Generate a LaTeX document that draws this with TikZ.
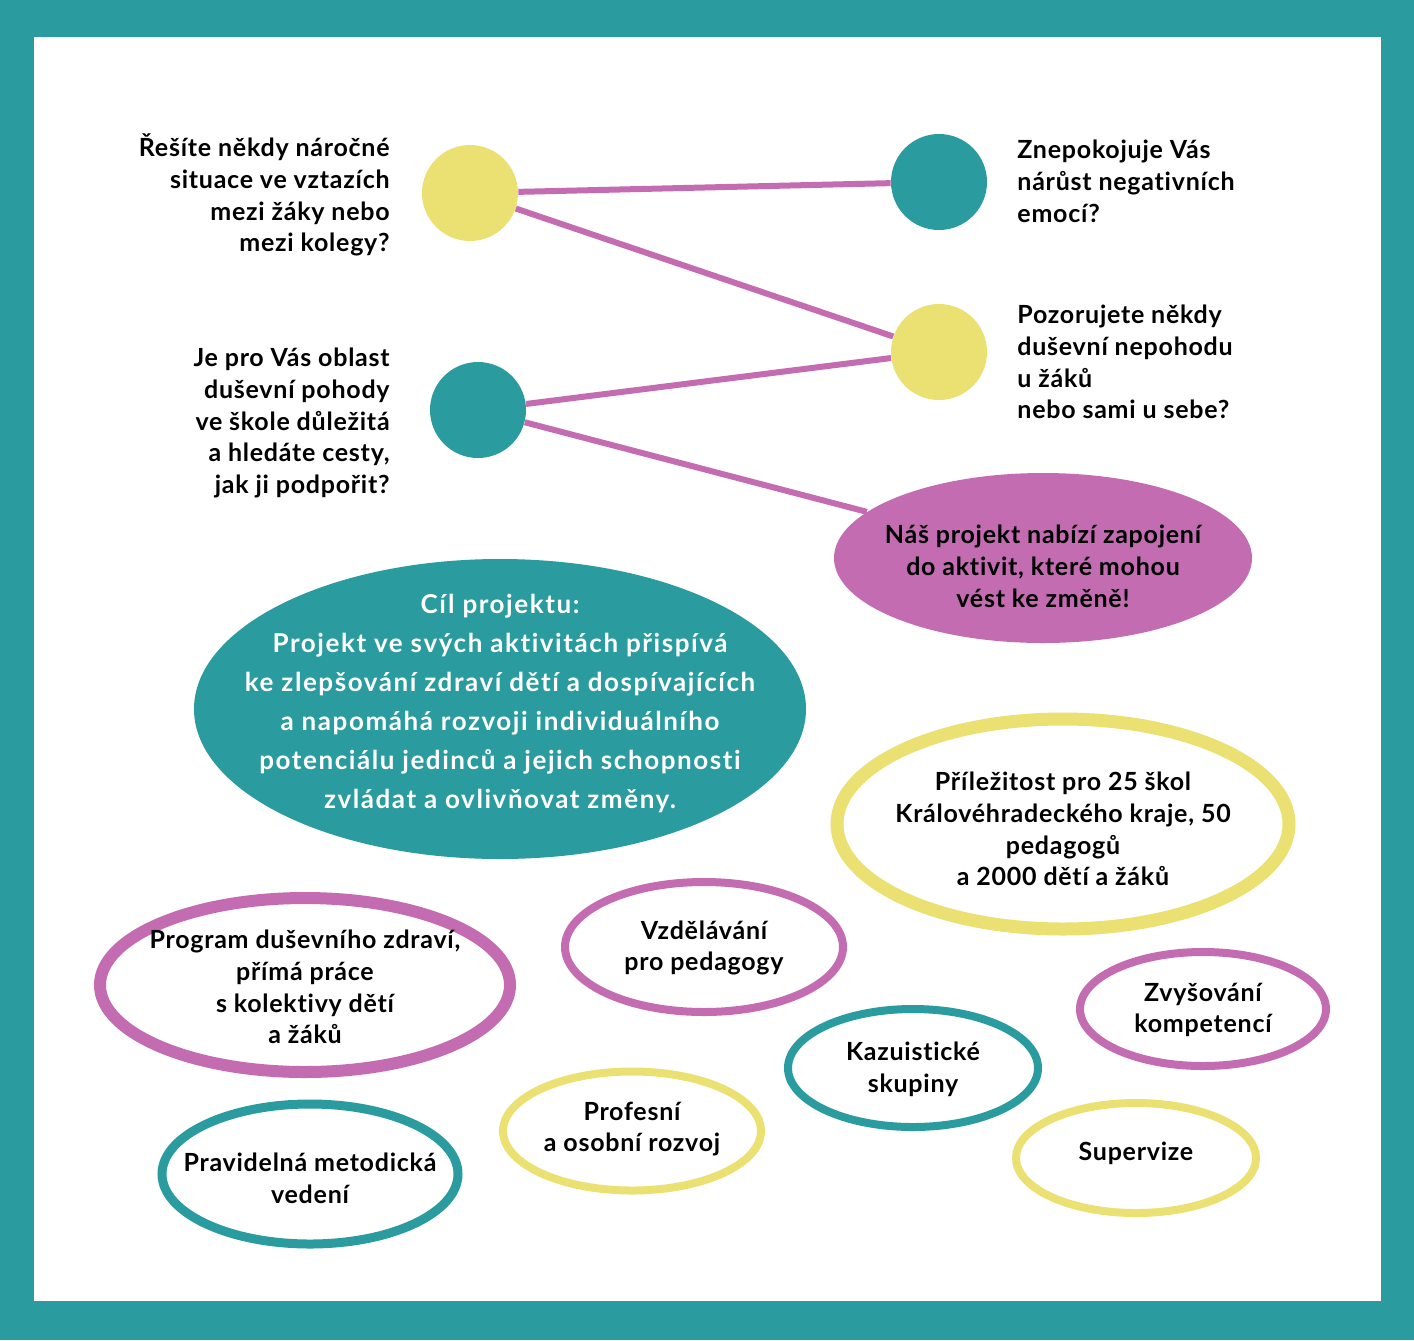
\documentclass[tikz,border=0pt]{standalone}
\usepackage{fontspec}
\setmainfont{Lato}[LetterSpace=3,Ligatures=NoCommon]
\newfontfamily\goalfont{Lato}[LetterSpace=6,Ligatures=NoCommon]
\usetikzlibrary{shapes.geometric}
\definecolor{tealc}{HTML}{2A9B9E}
\definecolor{pinkc}{HTML}{C46CB1}
\definecolor{yelc}{HTML}{EBE173}
\begin{document}
\begin{tikzpicture}[x=0.5pt,y=-0.5pt,
    dot/.style={circle,inner sep=0pt,minimum size=48pt},
    oval/.style={ellipse,inner sep=0pt},
    txt/.style={font=\bfseries\fontsize{12.5}{15.9}\selectfont,align=center,inner sep=0pt},
    link/.style={pinkc,line width=3pt}]
  \fill[tealc] (0,0) rectangle (1414,1340);
  \fill[white] (34,37) rectangle (1381,1301);
  % questions
  \node[dot,fill=yelc] (q1) at (470,193) {};
  \node[dot,fill=tealc] (q2) at (939,182) {};
  \node[dot,fill=yelc] (q3) at (939,352) {};
  \node[dot,fill=tealc] (q4) at (478,410) {};
  \node[txt,align=right,anchor=east] (t1) at (390,195) {Řešíte někdy náročné\\situace ve vztazích\\mezi žáky nebo\\mezi kolegy?};
  \node[txt,align=left,anchor=west] (t2) at (1017,181) {Znepokojuje Vás\\nárůst negativních\\emocí?};
  \node[txt,align=left,anchor=west] (t3) at (1017,362) {Pozorujete někdy\\duševní nepohodu\\u žáků\\nebo sami u sebe?};
  \node[txt,align=right,anchor=east] (t4) at (390,423) {Je pro Vás oblast\\duševní pohody\\ve škole důležitá\\a hledáte cesty,\\jak ji podpořit?};
  % offer
  \node[oval,fill=pinkc,minimum width=209pt,minimum height=85pt] (offer) at (1043,558) {};
  \node[txt] at (1043,566) {Náš projekt nabízí zapojení\\do aktivit, které mohou\\vést ke změně!};
  \draw[link] (q1) -- (q2);
  \draw[link] (q1) -- (q3);
  \draw[link] (q4) -- (q3);
  \draw[link] (q4) -- (offer);
  % goal
  \node[oval,fill=tealc,minimum width=306pt,minimum height=150pt] (goal) at (500,709) {};
  \node[txt,text=white,font=\goalfont\bfseries\fontsize{13}{19.5}\selectfont] at (500,704) {Cíl projektu:\\Projekt ve svých aktivitách přispívá\\ke zlepšování zdraví dětí a dospívajících\\a napomáhá rozvoji individuálního\\potenciálu jedinců a jejich schopnosti\\zvládat a ovlivňovat změny.};
  % activities
  \node[oval,draw=yelc,line width=6.5pt,minimum width=226pt,minimum height=105pt] (reach) at (1063,824) {};
  \node[txt] at (1063,829) {Příležitost pro 25 škol\\Královéhradeckého kraje, 50\\pedagogů\\a 2000 dětí a žáků};
  \node[oval,draw=pinkc,line width=6pt,minimum width=205pt,minimum height=87pt] (prog) at (305,985) {};
  \node[txt] at (305,987) {Program duševního zdraví,\\přímá práce\\s kolektivy dětí\\a žáků};
  \node[oval,draw=pinkc,line width=4pt,minimum width=139pt,minimum height=65pt] (edu) at (704,947) {};
  \node[txt] at (704,948) {Vzdělávání\\pro pedagogy};
  \node[oval,draw=pinkc,line width=4pt,minimum width=123pt,minimum height=57pt] (comp) at (1203,1009) {};
  \node[txt] at (1203,1010) {Zvyšování\\kompetencí};
  \node[oval,draw=tealc,line width=4pt,minimum width=125pt,minimum height=59pt] (case) at (913,1068) {};
  \node[txt] at (913,1069) {Kazuistické\\skupiny};
  \node[oval,draw=yelc,line width=4pt,minimum width=129pt,minimum height=59.5pt] (grow) at (632,1131) {};
  \node[txt] at (632,1129) {Profesní\\a osobní rozvoj};
  \node[oval,draw=tealc,line width=4.5pt,minimum width=148pt,minimum height=70pt] (lead) at (310,1174) {};
  \node[txt] at (310,1178) {Pravidelná metodická\\vedení};
  \node[oval,draw=yelc,line width=4pt,minimum width=120pt,minimum height=55pt] (superv) at (1136,1158) {};
  \node[txt] at (1136,1153) {Supervize};
\end{tikzpicture}
\end{document}
